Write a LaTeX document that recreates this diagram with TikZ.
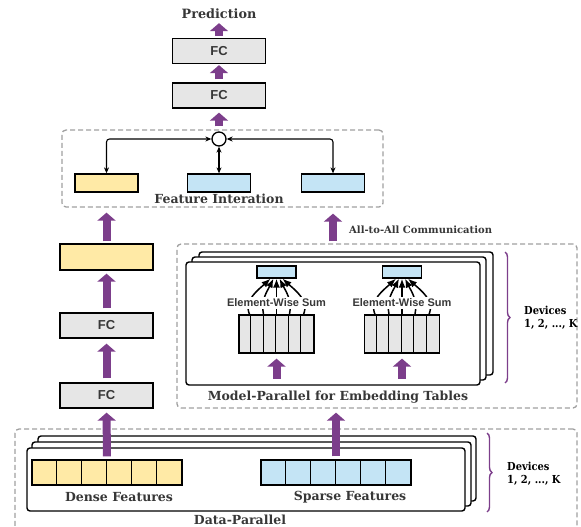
\documentclass[tikz,border=0pt]{standalone}
\usepackage{fontspec}
\setmainfont{DejaVu Serif}
\newfontfamily\serifb{DejaVu Serif}
\newfontfamily\serifc{DejaVu Serif}[FakeStretch=0.9]
\newfontfamily\sansb{Liberation Sans}
\usetikzlibrary{arrows.meta,decorations.pathreplacing}
\definecolor{pur}{RGB}{124,62,139}
\definecolor{fcgrey}{RGB}{230,230,230}
\definecolor{yel}{RGB}{255,234,166}
\definecolor{blu}{RGB}{196,228,245}
\definecolor{dgrey}{RGB}{160,160,160}
\definecolor{txt}{RGB}{55,55,55}
\begin{document}
\begin{tikzpicture}[x=1pt,y=-1pt,
  box/.style={draw=black,line width=1.3pt,inner sep=0pt},
  fcbox/.style={box,fill=fcgrey,minimum width=93pt,minimum height=25pt,text=txt,
    font=\sansb\bfseries\fontsize{13}{13}\selectfont},
  ybox/.style={box,fill=yel,minimum width=63pt,minimum height=18pt},
  bbox/.style={box,fill=blu,minimum width=63pt,minimum height=18pt},
  dbox/.style={draw=dgrey,line width=1.3pt,dash pattern=on 5pt off 3pt,rounded corners=4pt,inner sep=0pt},
  card/.style={draw=black,fill=white,line width=1.4pt,rounded corners=3pt,inner sep=0pt},
  lab/.style={inner sep=0pt,text=txt,font=\serifb\bfseries\fontsize{12.5}{12.5}\selectfont},
  sumlab/.style={inner sep=1.5pt,fill=white,text=txt,font=\sansb\bfseries\fontsize{11}{11}\selectfont},
  circ/.style={draw=black,fill=white,line width=1.3pt,circle,minimum size=14pt,inner sep=0pt},
  biarrow/.style={black,line width=1.1pt,{Stealth[length=6pt,width=5pt]}-{Stealth[length=6pt,width=5pt]}},
  sumarrow/.style={black,line width=1.5pt,-{Latex[length=9pt,width=7pt]}},
  parrow/.style={pur,line width=8pt,-{Triangle[length=8pt,width=18pt]}},
  brc/.style={pur,line width=1.4pt,decorate,decoration={brace,amplitude=5pt}},
  dev/.style={inner sep=0pt,anchor=west,align=left,text=black,
    font=\serifc\bfseries\fontsize{11}{13}\selectfont},
]
\useasboundingbox (0,0) rectangle (581,527);
\clip (0,0) rectangle (581,527);

% ---------- top part ----------
\node[lab,font=\serifb\bfseries\fontsize{12.8}{12.8}\selectfont] (pred) at (219,14) {Prediction};
\node[fcbox] (fc2) at (219,51) {FC};
\node[fcbox] (fc1) at (219,95.5) {FC};
\node[dbox,minimum width=321pt,minimum height=77pt] (fibox) at (222.5,168.5) {};
\node[ybox] (fy) at (106.5,183) {};
\node[bbox] (fbm) at (219,183) {};
\node[bbox] (fbr) at (333,183) {};
\node[circ] (circ) at (219,139) {};
\node[lab] (fitxt) at (219,199) {Feature Interation};
\draw[biarrow,rounded corners=3pt] (circ.west) -| (fy.north);
\draw[biarrow,rounded corners=3pt] (circ.east) -| (fbr.north);
\draw[biarrow] (circ.south) -- (fbm.north);

\draw[parrow,shorten <=2pt,shorten >=4pt] (fc2.north) -- (pred.south);
\draw[parrow,shorten <=3pt,shorten >=1pt] (fc1.north) -- (fc2.south);
\draw[parrow,shorten <=3pt,shorten >=4pt] (fibox.north -| fc1.south) -- (fc1.south);

% ---------- left column ----------
\node[box,fill=yel,minimum width=93pt,minimum height=26pt] (ybig) at (106.5,257) {};
\node[fcbox] (fcA) at (106.5,325.5) {FC};
\node[fcbox] (fcB) at (106.5,395.5) {FC};
\draw[parrow,shorten <=2pt,shorten >=5pt] (ybig.north) -- (ybig.north |- fibox.south);
\draw[parrow,shorten <=4pt,shorten >=3pt] (fcA.north) -- (ybig.south);
\draw[parrow,shorten <=4pt,shorten >=5pt] (fcB.north) -- (fcA.south);

% ---------- model parallel ----------
\node[dbox,minimum width=400pt,minimum height=164pt] (mbox) at (377,326) {};
\draw[card] (199,252) rectangle (493,375);
\draw[card] (192,257) rectangle (486,380);
\node[card,minimum width=294pt,minimum height=123pt] (mcard) at (333,323.5) {};
\node[lab] (mtxt) at (338,397) {Model-Parallel for Embedding Tables};
\draw[parrow,shorten <=2pt,shorten >=6pt] (fbr.south |- mbox.north) -- (fbr.south |- fibox.south);
\node[lab,anchor=west,font=\serifb\bfseries\fontsize{10}{10}\selectfont] (a2a) at (349,230) {All-to-All Communication};

\foreach \i/\cx in {1/276.5,2/402} {
  \node[box,fill=fcgrey,minimum width=75pt,minimum height=38pt] (tab\i) at (\cx,334) {};
  \foreach \k in {1,...,5} \draw[black,line width=1.1pt] ([xshift=\k*12.5pt]tab\i.north west) -- ([xshift=\k*12.5pt]tab\i.south west);
  \node[box,fill=blu,minimum width=39pt,minimum height=12pt] (emb\i) at (\cx,272) {};
  \draw[sumarrow] ([xshift=-27pt]tab\i.north) .. controls +(-6,-14) and +(-12,11) .. ([xshift=-6pt]emb\i.south);
  \draw[sumarrow] ([xshift=-13pt]tab\i.north) .. controls +(-3,-14) and +(-6,12) .. ([xshift=-3pt]emb\i.south);
  \draw[sumarrow] (tab\i.north) -- (emb\i.south);
  \draw[sumarrow] ([xshift=13pt]tab\i.north) .. controls +(3,-14) and +(6,12) .. ([xshift=3pt]emb\i.south);
  \draw[sumarrow] ([xshift=27pt]tab\i.north) .. controls +(6,-14) and +(12,11) .. ([xshift=6pt]emb\i.south);
  \node[sumlab] (sum\i) at (\cx,303) {Element-Wise Sum};
  \draw[parrow,shorten <=7pt,shorten >=5pt] (mcard.south -| tab\i.south) -- (tab\i.south);
}
\draw[brc] (505,252) -- (505,383);
\node[dev] (dev1) at (524,317.5) {Devices\\1, 2, ..., K};

% ---------- data parallel ----------
\node[dbox,minimum width=562pt,minimum height=111pt] (dbx) at (296,484.5) {};
\draw[card] (38,436) rectangle (476,501);
\draw[card] (32,442) rectangle (471,506);
\node[card,minimum width=438pt,minimum height=63pt] (dcard) at (246,479.5) {};
\node[box,fill=yel,minimum width=150pt,minimum height=25pt] (dense) at (107,472.5) {};
\node[box,fill=blu,minimum width=150pt,minimum height=25pt] (sparse) at (336,472.5) {};
\foreach \k in {1,...,5} {
  \draw[black,line width=1.3pt] ([xshift=\k*25pt]dense.north west) -- ([xshift=\k*25pt]dense.south west);
  \draw[black,line width=1.3pt] ([xshift=\k*25pt]sparse.north west) -- ([xshift=\k*25pt]sparse.south west);
}
\node[lab] (dtxt) at (119,497) {Dense Features};
\node[lab] (stxt) at (350,497) {Sparse Features};
\node[lab] (dptxt) at (240,520) {Data-Parallel};
\draw[parrow,shorten <=3pt,shorten >=4pt] (dense.north) -- (fcB.south);
\draw[parrow,shorten <=3pt,shorten >=4pt] (sparse.north) -- (sparse.north |- mbox.south);
\draw[brc] (487,433) -- (487,512);
\node[dev] (dev2) at (507,473.5) {Devices\\1, 2, ..., K};
\end{tikzpicture}
\end{document}
